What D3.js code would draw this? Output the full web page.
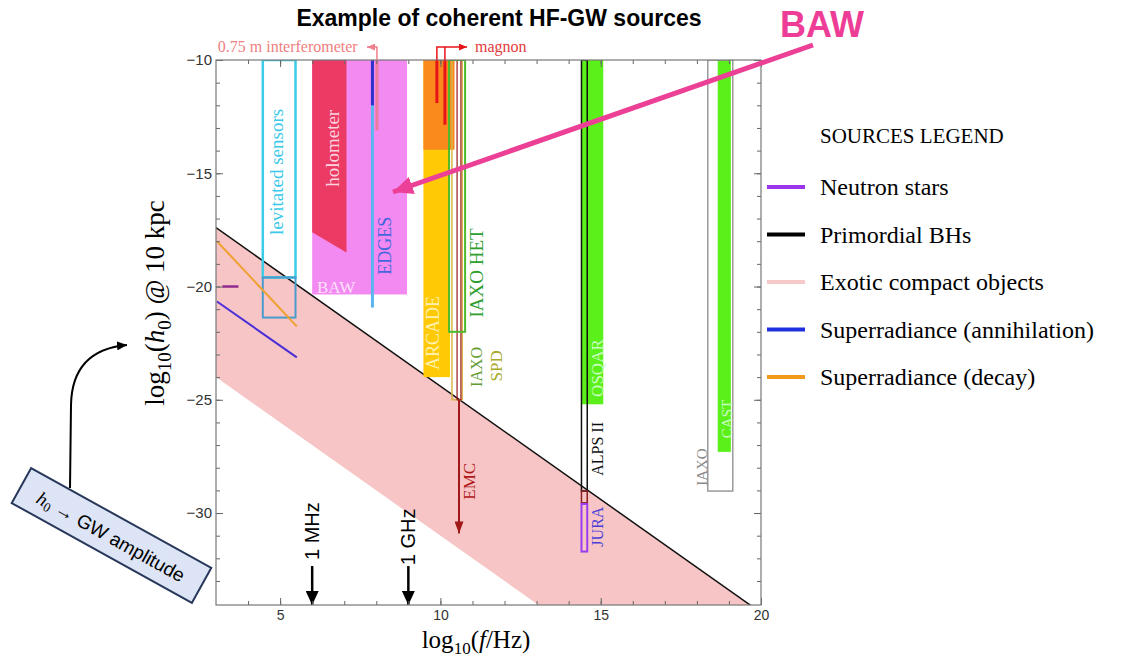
<!DOCTYPE html>
<html>
<head>
<meta charset="utf-8">
<script src="https://cdn.jsdelivr.net/npm/d3@7"></script>
<style>
  body { margin: 0; background: #fff; }
  svg { display: block; }
</style>
</head>
<body>
<div id="chart"></div>
<script>
// axis ticks
const xTicks = [5, 10, 15, 20];
const yTicks = [-10, -15, -20, -25, -30];
const xMinor = d3.range(4, 20);
const yMinor = d3.range(-11, -34, -1);

// exotic compact objects band (upper / lower edge, log10 f, log10 h0)
const ecoUpper = [[3, -17.4], [20, -34.4]];
const ecoLower = [[3, -24.0], [13.1, -34.1]];

// superradiance and neutron star curves
const srDecay = [[3.03, -18.0], [5.52, -21.76]];
const srAnnihilation = [[3.03, -20.66], [5.52, -23.13]];
const neutronStars = [[3.2, -20], [3.7, -20]];

// filled detector regions
const filledRegions = [
    {id: "baw", f0: 6.0, f1: 8.96, h0: -10, h1: -20.35},
    {id: "arcade", f0: 9.47, f1: 10.3, h0: -10, h1: -24.0},
    {id: "arcadeTop", f0: 9.47, f1: 10.44, h0: -10, h1: -13.96},
    {id: "osqar", f0: 14.4, f1: 15.08, h0: -10, h1: -25.2},
    {id: "cast", f0: 18.65, f1: 19.06, h0: -10, h1: -27.3}
];
const holometer = [[6.0, -10], [7.07, -10], [7.07, -18.5], [6.0, -17.6]];

// outlined detector regions
const outlineRegions = [
    {id: "levTop", f0: 4.46, f1: 5.48, h0: -10, h1: -19.6},
    {id: "levBottom", f0: 4.46, f1: 5.48, h0: -19.6, h1: -21.37},
    {id: "iaxoSpd", f0: 10.36, f1: 10.68, h0: -10, h1: -25.0},
    {id: "emcBox", f0: 10.52, f1: 10.64, h0: -10, h1: -25.0},
    {id: "iaxoHet", f0: 10.27, f1: 10.77, h0: -10, h1: -22.0},
    {id: "alps", f0: 14.4, f1: 14.58, h0: -10, h1: -29.03},
    {id: "alpsEnd", f0: 14.4, f1: 14.58, h0: -29.03, h1: -29.55},
    {id: "jura", f0: 14.4, f1: 14.58, h0: -29.6, h1: -31.7},
    {id: "iaxo", f0: 18.34, f1: 19.12, h0: -10, h1: -29.03}
];

// vertical line sources
const verticalLines = [
    {id: "edges", f: 7.88, h0: -10, h1: -20.93},
    {id: "edgesTop", f: 7.88, h0: -10, h1: -12.0},
    {id: "interferometer", f: 8.02, h0: -10, h1: -13.1},
    {id: "magnon1", f: 9.89, h0: -10, h1: -11.9},
    {id: "magnon2", f: 10.14, h0: -10, h1: -12.86}
];
const emcArrow = [[10.58, -25.0], [10.58, -30.9]];

// frequency markers
const freqMarks = [
    {text: "1 MHz", f: 6, hText: -30.8, hTop: -32.34},
    {text: "1 GHz", f: 9, hText: -31.05, hTop: -32.34}
];

// experiment labels
const expLabels = [
    {id: "lev", text: "levitated sensors", f: 4.9, h: -14.94},
    {id: "holo", text: "holometer", f: 6.62, h: -13.9},
    {id: "edges", text: "EDGES", f: 8.27, h: -18.2},
    {id: "arcade", text: "ARCADE", f: 9.77, h: -22.05},
    {id: "iaxoHet", text: "IAXO HET", f: 11.14, h: -19.4},
    {id: "iaxoSpd1", text: "IAXO", f: 11.14, h: -23.55},
    {id: "iaxoSpd2", text: "SPD", f: 11.76, h: -23.5},
    {id: "emc", text: "EMC", f: 10.92, h: -28.6},
    {id: "osqar", text: "OSQAR", f: 14.91, h: -23.6},
    {id: "alps", text: "ALPS II", f: 14.91, h: -27.17},
    {id: "jura", text: "JURA", f: 14.91, h: -30.6},
    {id: "cast", text: "CAST", f: 18.94, h: -25.85},
    {id: "iaxo", text: "IAXO", f: 18.16, h: -27.97}
];

// legend
const legendNames = ["Neutron stars", "Primordial BHs", "Exotic compact objects",
    "Superradiance (annihilation)", "Superradiance (decay)"];
const legendColors = ["#9a35ee", "#000000", "#f6c9c9", "#1f2fe0", "#f39a1a"];

// ---- styles ----
const fillColor = {
    baw: "#f38af2", arcade: "#ffc905", arcadeTop: "#fa8a1c",
    osqar: "#5cf01a", cast: "#5cf01a"
};
const outlineStyle = {
    levTop: ["#3cccea", 2.5], levBottom: ["#4a9ccc", 2],
    iaxoSpd: ["#d9b54a", 1.5], emcBox: ["#9a1818", 1.2], iaxoHet: ["#4cba2c", 2],
    alps: ["#111", 1.5], alpsEnd: ["#8a2020", 1.5], jura: ["#9b3cf0", 2],
    iaxo: ["#9a9a9a", 1.5]
};
const lineStyle = {
    edges: ["#5bb5ee", 3], edgesTop: ["#3030cc", 3], interferometer: ["#ea7c9c", 3],
    magnon1: ["#e8141a", 3], magnon2: ["#e8141a", 3]
};
const labelStyle = {
    lev: ["#3cc8e8", 19], holo: ["#fbd3de", 19], edges: ["#4466dd", 18],
    arcade: ["#fff2b0", 18], iaxoHet: ["#2e9e2e", 19], iaxoSpd1: ["#5e9c30", 16],
    iaxoSpd2: ["#a8a82a", 17], emc: ["#b01818", 17], osqar: ["#c9ffc0", 17],
    alps: ["#111", 16], jura: ["#4a3fd8", 16], cast: ["#c9ffc0", 15], iaxo: ["#8a8a8a", 15]
};

const serif = "'Liberation Serif', 'Times New Roman', serif";
const sans = "'Liberation Sans', Arial, sans-serif";

const width = 1145, height = 657;
const plot = {left: 216, top: 60, right: 761, bottom: 605};

const svg = d3.select("#chart").append("svg")
    .attr("width", width)
    .attr("height", height);

const x = d3.scaleLinear().domain([3, 20]).range([plot.left, plot.right]);
const y = d3.scaleLinear().domain([-10, -34.06]).range([plot.top, plot.bottom]);
const line = d3.line().x(d => x(d[0])).y(d => y(d[1]));

const defs = svg.append("defs");
defs.append("clipPath").attr("id", "plotClip")
    .append("rect")
    .attr("x", plot.left).attr("y", plot.top)
    .attr("width", plot.right - plot.left).attr("height", plot.bottom - plot.top);

function marker(id, color, w, l) {
    defs.append("marker")
        .attr("id", id)
        .attr("markerUnits", "userSpaceOnUse")
        .attr("viewBox", `0 ${-w / 2} ${l} ${w}`)
        .attr("refX", l).attr("refY", 0)
        .attr("markerWidth", l).attr("markerHeight", w)
        .attr("orient", "auto")
        .append("path")
        .attr("d", `M0,${-w / 2}L${l},0L0,${w / 2}Z`)
        .attr("fill", color);
}
marker("arrEmc", "#a01818", 9, 12);
marker("arrBlack", "#000", 13, 14);
marker("arrSmallRed", "#e8141a", 7, 8);
marker("arrSmallPink", "#ef7f8a", 7, 8);
marker("arrPink", "#ec3f96", 18, 20);
marker("arrCurve", "#000", 9, 10);

const g = svg.append("g").attr("clip-path", "url(#plotClip)");

// exotic compact objects band
const bandPoly = ecoUpper.concat(ecoLower.slice().reverse());
g.append("path").datum(bandPoly)
    .attr("d", d => line(d) + "Z")
    .attr("fill", "#f7c5c5");
g.append("path").datum(ecoUpper)
    .attr("d", line)
    .attr("fill", "none").attr("stroke", "#111").attr("stroke-width", 1.5);

// filled regions
g.selectAll("rect.fill").data(filledRegions).join("rect")
    .attr("class", "fill")
    .attr("x", d => x(d.f0)).attr("y", d => y(d.h0))
    .attr("width", d => x(d.f1) - x(d.f0)).attr("height", d => y(d.h1) - y(d.h0))
    .attr("fill", d => fillColor[d.id]);

g.append("path").datum(holometer)
    .attr("d", d => line(d) + "Z")
    .attr("fill", "#eb3a64");

// outlined regions
g.selectAll("rect.outline").data(outlineRegions).join("rect")
    .attr("class", "outline")
    .attr("x", d => x(d.f0)).attr("y", d => y(d.h0))
    .attr("width", d => x(d.f1) - x(d.f0)).attr("height", d => y(d.h1) - y(d.h0))
    .attr("fill", "none")
    .attr("stroke", d => outlineStyle[d.id][0])
    .attr("stroke-width", d => outlineStyle[d.id][1]);

// vertical lines
g.selectAll("line.vl").data(verticalLines).join("line")
    .attr("class", "vl")
    .attr("x1", d => x(d.f)).attr("x2", d => x(d.f))
    .attr("y1", d => y(d.h0)).attr("y2", d => y(d.h1))
    .attr("stroke", d => lineStyle[d.id][0])
    .attr("stroke-width", d => lineStyle[d.id][1]);

// EMC arrow
g.append("path").datum(emcArrow)
    .attr("d", line)
    .attr("stroke", "#a01818").attr("stroke-width", 2)
    .attr("marker-end", "url(#arrEmc)");

// superradiance lines, neutron stars
g.append("path").datum(srDecay).attr("d", line)
    .attr("stroke", "#f0a030").attr("stroke-width", 2).attr("fill", "none");
g.append("path").datum(srAnnihilation).attr("d", line)
    .attr("stroke", "#4a2fd8").attr("stroke-width", 2).attr("fill", "none");
g.append("path").datum(neutronStars).attr("d", line)
    .attr("stroke", "#902a90").attr("stroke-width", 2.5).attr("fill", "none");

// experiment labels
g.selectAll("text.exp").data(expLabels).join("text")
    .attr("class", "exp")
    .attr("transform", d => `translate(${x(d.f)},${y(d.h)}) rotate(-90)`)
    .attr("text-anchor", "middle")
    .attr("dominant-baseline", "central")
    .attr("font-family", serif)
    .attr("font-size", d => labelStyle[d.id][1])
    .attr("fill", d => labelStyle[d.id][0])
    .text(d => d.text);

g.append("text")
    .attr("x", x(6.15)).attr("y", y(-20.3))
    .attr("font-family", serif).attr("font-size", 17)
    .attr("fill", "#fde0fb")
    .text("BAW");

// frequency markers
freqMarks.forEach(m => {
    svg.append("line")
        .attr("x1", x(m.f)).attr("x2", x(m.f))
        .attr("y1", y(m.hTop)).attr("y2", plot.bottom)
        .attr("stroke", "#000").attr("stroke-width", 2.5)
        .attr("marker-end", "url(#arrBlack)");
    svg.append("text")
        .attr("transform", `translate(${x(m.f)},${y(m.hText)}) rotate(-90)`)
        .attr("text-anchor", "middle").attr("dominant-baseline", "central")
        .attr("font-family", sans).attr("font-size", 20)
        .text(m.text);
});

// frame and ticks
const tickColor = "#666";
function styleAxis(sel) {
    sel.selectAll("line").attr("stroke", tickColor);
    sel.selectAll("path.domain").remove();
    sel.selectAll("text").attr("font-family", sans).attr("font-size", 15).attr("fill", "#333");
}
svg.append("g").attr("transform", `translate(0,${plot.bottom})`)
    .call(d3.axisBottom(x).tickValues(xTicks).tickSize(-7).tickPadding(5)).call(styleAxis)
    .selectAll("text").attr("font-size", 14);
svg.append("g").attr("transform", `translate(0,${plot.bottom})`)
    .call(d3.axisBottom(x).tickValues(xMinor).tickSize(-4).tickFormat("")).call(styleAxis);
svg.append("g").attr("transform", `translate(0,${plot.top})`)
    .call(d3.axisTop(x).tickValues(xTicks).tickSize(-7).tickFormat("")).call(styleAxis);
svg.append("g").attr("transform", `translate(0,${plot.top})`)
    .call(d3.axisTop(x).tickValues(xMinor).tickSize(-4).tickFormat("")).call(styleAxis);
svg.append("g").attr("transform", `translate(${plot.left},0)`)
    .call(d3.axisLeft(y).tickValues(yTicks).tickSize(-7).tickPadding(4)).call(styleAxis);
svg.append("g").attr("transform", `translate(${plot.left},0)`)
    .call(d3.axisLeft(y).tickValues(yMinor).tickSize(-4).tickFormat("")).call(styleAxis);
svg.append("g").attr("transform", `translate(${plot.right},0)`)
    .call(d3.axisRight(y).tickValues(yTicks).tickSize(-7).tickFormat("")).call(styleAxis);
svg.append("g").attr("transform", `translate(${plot.right},0)`)
    .call(d3.axisRight(y).tickValues(yMinor).tickSize(-4).tickFormat("")).call(styleAxis);
svg.append("rect")
    .attr("x", plot.left).attr("y", plot.top)
    .attr("width", plot.right - plot.left).attr("height", plot.bottom - plot.top)
    .attr("fill", "none").attr("stroke", "#777").attr("stroke-width", 1.2);

// annotations above the frame
const topY = y(-9.43);
svg.append("path")
    .attr("d", `M${x(8.02)},${plot.top}V${topY}H${x(7.71)}`)
    .attr("fill", "none").attr("stroke", "#ef7f8a").attr("stroke-width", 1.5)
    .attr("marker-end", "url(#arrSmallPink)");
svg.append("text")
    .attr("x", x(7.42)).attr("y", topY + 5)
    .attr("text-anchor", "end")
    .attr("font-family", serif).attr("font-size", 16).attr("fill", "#ef8080")
    .text("0.75 m interferometer");
svg.append("path")
    .attr("d", `M${x(10.14)},${plot.top}V${topY}`)
    .attr("fill", "none").attr("stroke", "#e8141a").attr("stroke-width", 1.5);
svg.append("path")
    .attr("d", `M${x(9.89)},${plot.top}V${topY}H${x(10.83)}`)
    .attr("fill", "none").attr("stroke", "#e8141a").attr("stroke-width", 1.5)
    .attr("marker-end", "url(#arrSmallRed)");
svg.append("text")
    .attr("x", x(11.08)).attr("y", topY + 5)
    .attr("font-family", serif).attr("font-size", 16).attr("fill", "#e03a3a")
    .text("magnon");

// title
svg.append("text")
    .attr("x", 499).attr("y", 26)
    .attr("text-anchor", "middle")
    .attr("font-family", sans).attr("font-weight", "bold").attr("font-size", 23)
    .text("Example of coherent HF-GW sources");

// axis titles
const yLab = svg.append("text")
    .attr("transform", `translate(164,303) rotate(-90)`)
    .attr("text-anchor", "middle")
    .attr("font-family", serif).attr("font-size", 27);
yLab.append("tspan").text("log");
yLab.append("tspan").attr("font-size", 19).attr("dy", 7).text("10");
yLab.append("tspan").attr("dy", -7).text("(");
yLab.append("tspan").attr("font-style", "italic").text("h");
yLab.append("tspan").attr("font-size", 19).attr("dy", 7).text("0");
yLab.append("tspan").attr("dy", -7).text(") @ 10 kpc");

const xLab = svg.append("text")
    .attr("x", 476).attr("y", 648)
    .attr("text-anchor", "middle")
    .attr("font-family", serif).attr("font-size", 25);
xLab.append("tspan").text("log");
xLab.append("tspan").attr("font-size", 17).attr("dy", 6).text("10");
xLab.append("tspan").attr("dy", -6).text("(");
xLab.append("tspan").attr("font-style", "italic").text("f");
xLab.append("tspan").text("/Hz)");

// legend
const legend = svg.append("g").attr("transform", "translate(767,0)");
legend.append("text")
    .attr("x", 53).attr("y", 143)
    .attr("font-family", serif).attr("font-size", 21)
    .text("SOURCES LEGEND");
const legendY = d3.scalePoint().domain(legendNames).range([187, 377]);
legend.selectAll("line").data(legendNames).join("line")
    .attr("x1", 0).attr("x2", 38)
    .attr("y1", d => legendY(d)).attr("y2", d => legendY(d))
    .attr("stroke", (d, i) => legendColors[i]).attr("stroke-width", 4);
legend.selectAll("text.item").data(legendNames).join("text")
    .attr("class", "item")
    .attr("x", 53).attr("y", d => legendY(d))
    .attr("dominant-baseline", "central")
    .attr("font-family", serif).attr("font-size", 24)
    .text(d => d);

// BAW callout
svg.append("text")
    .attr("x", 780).attr("y", 37)
    .attr("font-family", sans).attr("font-weight", "bold").attr("font-size", 36)
    .attr("fill", "#ee3d96")
    .text("BAW");
svg.append("line")
    .attr("x1", 813).attr("y1", 45).attr("x2", 393).attr("y2", 192)
    .attr("stroke", "#ec3f96").attr("stroke-width", 5)
    .attr("marker-end", "url(#arrPink)");

// h0 -> GW amplitude box
const note = svg.append("g").attr("transform", "translate(111.5,535.5) rotate(29)");
note.append("rect")
    .attr("x", -103).attr("y", -20).attr("width", 206).attr("height", 40)
    .attr("fill", "#dce4f6").attr("stroke", "#27385a").attr("stroke-width", 2);
const noteText = note.append("text")
    .attr("x", 0).attr("y", 1)
    .attr("text-anchor", "middle").attr("dominant-baseline", "central")
    .attr("font-family", sans).attr("font-size", 19);
noteText.append("tspan").attr("font-family", serif).attr("font-style", "italic").text("h");
noteText.append("tspan").attr("font-family", serif).attr("font-size", 13).attr("dy", 5).text("0");
noteText.append("tspan").attr("dy", -5).text(" → GW amplitude");

svg.append("path")
    .attr("d", "M70,488 L71,405 Q72,350 127,345")
    .attr("fill", "none").attr("stroke", "#000").attr("stroke-width", 2)
    .attr("marker-end", "url(#arrCurve)");
</script>
</body>
</html>
